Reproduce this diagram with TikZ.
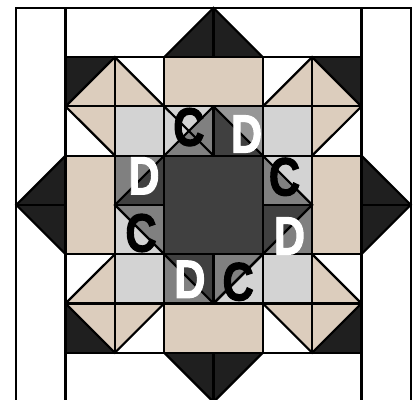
\documentclass[tikz,border=0pt]{standalone}
\usepackage{fontspec}
\setmainfont{Liberation Sans}[BoldFeatures={FakeBold=2.2}]
\definecolor{tan}{HTML}{DCCDBD}
\definecolor{lite}{HTML}{D3D3D3}
\definecolor{midg}{HTML}{808080}
\definecolor{pale}{HTML}{969696}
\definecolor{darkc}{HTML}{404040}
\definecolor{blk}{HTML}{1F1F1F}
\tikzset{seam/.style={line width=2.2pt,black},
 letr/.style={font=\fontsize{48}{48}\selectfont\bfseries,inner sep=0pt,xscale=.9,yscale=1.12}}
\begin{document}
\begin{tikzpicture}[x=49.3pt,y=49.25pt]
 \useasboundingbox (-.33,.04) rectangle (8.127,8.16);
 % plain fills
 \fill[darkc] (3,3) rectangle (5,5);
 \foreach \x/\y in {2/5,5/5,2/2,5/2} \fill[lite] (\x,\y) rectangle +(1,1);
 \foreach \x/\y/\w/\h in {3/6/2/1,3/1/2/1,1/3/1/2,6/3/1/2} \fill[tan] (\x,\y) rectangle +(\w,\h);
 % outer points
 \fill[blk] (3,7)--(4,8)--(5,7)--cycle;
 \fill[blk] (3,1)--(4,0)--(5,1)--cycle;
 \fill[blk] (1,3)--(0,4)--(1,5)--cycle;
 \fill[blk] (7,3)--(8,4)--(7,5)--cycle;
 % corner triangles
 \fill[tan] (1,6)--(2,7)--(2,6)--cycle;
 \fill[blk] (1,6)--(1,7)--(2,7)--cycle;
 \fill[tan] (2,7)--(3,6)--(2,6)--cycle;
 \fill[tan] (1,6)--(2,5)--(2,6)--cycle;
 \fill[tan] (5,6)--(6,7)--(6,6)--cycle;
 \fill[tan] (6,7)--(7,6)--(6,6)--cycle;
 \fill[blk] (6,7)--(7,7)--(7,6)--cycle;
 \fill[tan] (7,6)--(6,5)--(6,6)--cycle;
 \fill[tan] (6,3)--(7,2)--(6,2)--cycle;
 \fill[tan] (5,2)--(6,1)--(6,2)--cycle;
 \fill[tan] (6,1)--(7,2)--(6,2)--cycle;
 \fill[blk] (6,1)--(7,1)--(7,2)--cycle;
 \fill[tan] (2,3)--(1,2)--(2,2)--cycle;
 \fill[tan] (1,2)--(2,1)--(2,2)--cycle;
 \fill[blk] (1,2)--(1,1)--(2,1)--cycle;
 \fill[tan] (2,1)--(3,2)--(2,2)--cycle;
 % ring round the centre
 \fill[lite] (3,6)--(4,6)--(3,5)--cycle;
 \fill[midg] (4,6)--(4,5)--(3,5)--cycle;
 \fill[pale] (4,6)--(5,6)--(5,5)--cycle;
 \fill[darkc] (4,6)--(4,5)--(5,5)--cycle;
 \fill[midg] (5,5)--(5,4)--(6,4)--cycle;
 \fill[lite] (5,5)--(6,5)--(6,4)--cycle;
 \fill[darkc] (5,4)--(6,4)--(5,3)--cycle;
 \fill[midg] (6,4)--(6,3)--(5,3)--cycle;
 \fill[midg] (4,3)--(5,3)--(4,2)--cycle;
 \fill[lite] (5,3)--(5,2)--(4,2)--cycle;
 \fill[midg] (3,3)--(3,2)--(4,2)--cycle;
 \fill[darkc] (3,3)--(4,3)--(4,2)--cycle;
 \fill[midg] (2,4)--(3,4)--(3,3)--cycle;
 \fill[lite] (2,4)--(2,3)--(3,3)--cycle;
 \fill[midg] (2,5)--(2,4)--(3,5)--cycle;
 \fill[darkc] (2,4)--(3,4)--(3,5)--cycle;
 % seams
 \foreach \y in {1,2,3,5,6,7} \draw[seam] (1,\y)--(7,\y);
 \foreach \x in {1,2,3,5,6,7} \draw[seam] (\x,1)--(\x,7);
 \draw[seam] (0,0)--(0,8)--(8,8)--(8,0);
 \draw[seam] (1,7)--(1,8); \draw[seam] (7,7)--(7,8);
 \draw[seam] (1,0)--(1,1); \draw[seam] (7,0)--(7,1);
 \foreach \a/\b/\c/\d in {4/8/4/7,4/6/4/5,4/3/4/2,4/1/4/0,0/4/1/4,2/4/3/4,5/4/6/4,7/4/8/4} \draw[seam] (\a,\b)--(\c,\d);
 % diagonals
 \draw[seam] (3,7)--(4,8)--(5,7);
 \draw[seam] (3,1)--(4,0)--(5,1);
 \draw[seam] (1,3)--(0,4)--(1,5);
 \draw[seam] (7,3)--(8,4)--(7,5);
 \draw[seam] (2,5)--(1,6)--(2,7)--(3,6)--(4,5);
 \draw[seam] (4,6)--(5,5)--(6,4)--(5,3)--(4,2);
 \draw[seam] (3,5)--(4,6);
 \draw[seam] (5,6)--(6,7)--(7,6)--(6,5);
 \draw[seam] (3,5)--(2,4)--(3,3)--(4,2)--(5,3);
 \draw[seam] (6,3)--(7,2)--(6,1)--(5,2);
 \draw[seam] (2,3)--(1,2)--(2,1)--(3,2);
 % letters
 \foreach \n/\x/\y in {ca/3.50/5.58,cb/5.44/4.57,cc/4.50/2.44,cd/2.53/3.43}
  \node[letr,black] (\n) at (\x,\y) {C};
 \foreach \n/\x/\y in {da/2.59/4.59,db/4.67/5.44,dc/5.54/3.37,dd/3.52/2.49}
  \node[letr,white] (\n) at (\x,\y) {D};
\end{tikzpicture}
\end{document}
